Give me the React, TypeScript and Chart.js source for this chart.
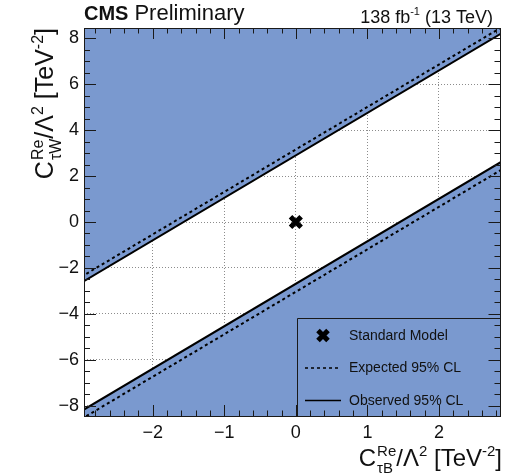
import { useEffect, useRef } from 'react';
import { Chart, registerables } from 'chart.js';
Chart.register(...registerables);

// ---- data ----
const xRange = [-2.96, 2.86];
const yRange = [-8.45, 8.45];
const xTickValues = [-2, -1, 0, 1, 2];
const yTickValues = [-8, -6, -4, -2, 0, 2, 4, 6, 8];
const lineX = [-3, 3];
const observedUpperY = [-2.65, 8.45];
const observedLowerY = [-8.24, 2.86];
const expectedUpperY = [-2.39, 8.71];
const expectedLowerY = [-8.59, 2.51];
const smX = [0];
const smY = [0];
const legendLabels = ['Standard Model', 'Expected 95% CL', 'Observed 95% CL'];

const FILL = 'rgb(122,153,207)';
const FONT = "'Liberation Sans', Arial, Helvetica, sans-serif";
const INK = '#111';

type Piece = { t: string; kind?: 'base' | 'sup' | 'sub' | 'stack'; sub?: string };

function drawRich(ctx: CanvasRenderingContext2D, pieces: Piece[], size: number, xRight: number, y: number) {
  const small = Math.round(size * 0.62);
  const widths = pieces.map((p) => {
    if (p.kind === 'sup' || p.kind === 'sub') {
      ctx.font = `${small}px ${FONT}`;
      return ctx.measureText(p.t).width;
    }
    if (p.kind === 'stack') {
      ctx.font = `${small}px ${FONT}`;
      return Math.max(ctx.measureText(p.t).width, ctx.measureText(p.sub || '').width) + 1;
    }
    ctx.font = `${size}px ${FONT}`;
    return ctx.measureText(p.t).width;
  });
  const total = widths.reduce((a, b) => a + b, 0);
  let x = xRight - total;
  ctx.textAlign = 'left';
  ctx.textBaseline = 'alphabetic';
  pieces.forEach((p, i) => {
    if (p.kind === 'sup') {
      ctx.font = `${small}px ${FONT}`;
      ctx.fillText(p.t, x, y - size * 0.42);
    } else if (p.kind === 'sub') {
      ctx.font = `${small}px ${FONT}`;
      ctx.fillText(p.t, x, y + size * 0.25);
    } else if (p.kind === 'stack') {
      ctx.font = `${small}px ${FONT}`;
      ctx.fillText(p.t, x + 1, y - size * 0.42);
      ctx.fillText(p.sub || '', x + 1, y + size * 0.3);
    } else {
      ctx.font = `${size}px ${FONT}`;
      ctx.fillText(p.t, x, y);
    }
    x += widths[i];
  });
}

function drawX(ctx: CanvasRenderingContext2D, cx: number, cy: number, r: number, w: number) {
  ctx.save();
  ctx.strokeStyle = '#000';
  ctx.lineWidth = w;
  ctx.lineCap = 'butt';
  ctx.beginPath();
  ctx.moveTo(cx - r, cy - r);
  ctx.lineTo(cx + r, cy + r);
  ctx.moveTo(cx - r, cy + r);
  ctx.lineTo(cx + r, cy - r);
  ctx.stroke();
  ctx.restore();
}

const decorPlugin = {
  id: 'decor',
  afterDatasetsDraw(chart: any) {
    const ctx: CanvasRenderingContext2D = chart.ctx;
    const ca = chart.chartArea;
    const xs = chart.scales.x;
    const ys = chart.scales.y;
    ctx.save();
    // frame
    ctx.strokeStyle = '#1a1a1a';
    ctx.lineWidth = 1;
    ctx.strokeRect(Math.round(ca.left) + 0.5, Math.round(ca.top) + 0.5, Math.round(ca.right - ca.left) - 1, Math.round(ca.bottom - ca.top));
    // inner ticks
    ctx.beginPath();
    for (let v = -28; v <= 28; v++) {
      const val = v / 5;
      if (val < xRange[0] || val > xRange[1]) continue;
      const px = Math.round(xs.getPixelForValue(val)) + 0.5;
      const len = v % 5 === 0 ? 11 : 5.5;
      ctx.moveTo(px, ca.bottom);
      ctx.lineTo(px, ca.bottom - len);
      ctx.moveTo(px, ca.top);
      ctx.lineTo(px, ca.top + len);
    }
    for (let v = -16; v <= 16; v++) {
      const val = v / 2;
      if (val < yRange[0] || val > yRange[1]) continue;
      const py = Math.round(ys.getPixelForValue(val)) + 0.5;
      const len = v % 4 === 0 ? 12 : 6;
      ctx.moveTo(ca.left, py);
      ctx.lineTo(ca.left + len, py);
      ctx.moveTo(ca.right, py);
      ctx.lineTo(ca.right - len, py);
    }
    ctx.stroke();

    // legend
    const w = ca.right - ca.left;
    const h = ca.bottom - ca.top;
    const lx = Math.round(ca.left + 0.511 * w) + 0.5;
    const ly = Math.round(ca.top + 0.748 * h) + 0.5;
    ctx.strokeStyle = '#1a1a1a';
    ctx.lineWidth = 1;
    ctx.beginPath();
    ctx.moveTo(lx, ca.bottom);
    ctx.lineTo(lx, ly);
    ctx.lineTo(ca.right, ly);
    ctx.stroke();
    const rowY = [ly + 17, ly + 49.5, ly + 82];
    drawX(ctx, lx + 25.5, rowY[0], 5, 5);
    ctx.strokeStyle = '#000';
    ctx.lineWidth = 1.6;
    ctx.setLineDash([3, 3]);
    ctx.beginPath();
    ctx.moveTo(lx + 7.5, rowY[1]);
    ctx.lineTo(lx + 43.5, rowY[1]);
    ctx.stroke();
    ctx.setLineDash([]);
    ctx.beginPath();
    ctx.moveTo(lx + 7.5, rowY[2]);
    ctx.lineTo(lx + 43.5, rowY[2]);
    ctx.stroke();
    ctx.fillStyle = INK;
    ctx.font = `14px ${FONT}`;
    ctx.textAlign = 'left';
    ctx.textBaseline = 'middle';
    legendLabels.forEach((t, i) => ctx.fillText(t, lx + 51.5, rowY[i] + 0.5));

    // header
    ctx.textBaseline = 'alphabetic';
    ctx.font = `bold 20px ${FONT}`;
    ctx.fillText('CMS', 84, 20);
    const cmsW = ctx.measureText('CMS').width;
    ctx.font = `22px ${FONT}`;
    ctx.fillText('Preliminary', 84 + cmsW + 6, 20);
    drawRich(ctx, [{ t: '138 fb' }, { t: '-1', kind: 'sup' }, { t: ' (13 TeV)' }], 18, 493, 23);

    // axis titles
    drawRich(
      ctx,
      [{ t: 'C' }, { t: 'Re', kind: 'stack', sub: '\u03C4B' }, { t: '/\u039B' }, { t: '2', kind: 'sup' }, { t: ' [TeV' }, { t: '-2', kind: 'sup' }, { t: ']' }],
      24,
      502,
      466
    );
    ctx.save();
    ctx.translate(53, 28);
    ctx.rotate(-Math.PI / 2);
    drawRich(
      ctx,
      [{ t: 'C' }, { t: 'Re', kind: 'stack', sub: '\u03C4W' }, { t: '/\u039B' }, { t: '2', kind: 'sup' }, { t: ' [TeV' }, { t: '-2', kind: 'sup' }, { t: ']' }],
      25,
      0,
      0
    );
    ctx.restore();
    ctx.restore();
  },
};

const pts = (xs: number[], ys: number[]) => xs.map((x, i) => ({ x, y: ys[i] }));
const minus = (v: any) => String(v).replace('-', '\u2212');

export default function App() {
  const ref = useRef<HTMLCanvasElement | null>(null);
  useEffect(() => {
    if (!ref.current) return;
    const chart = new Chart(ref.current, {
      type: 'line',
      data: {
        datasets: [
          {
            label: 'Standard Model',
            data: pts(smX, smY),
            showLine: false,
            pointStyle: 'crossRot',
            pointRadius: 7.5,
            pointBorderWidth: 5,
            pointBorderColor: '#000',
            pointBackgroundColor: '#000',
            order: 0,
          },
          {
            label: 'Expected upper',
            data: pts(lineX, expectedUpperY),
            borderColor: '#000',
            borderWidth: 2,
            borderDash: [3, 3],
            pointRadius: 0,
            fill: false,
            order: 1,
          },
          {
            label: 'Expected lower',
            data: pts(lineX, expectedLowerY),
            borderColor: '#000',
            borderWidth: 2,
            borderDash: [3, 3],
            pointRadius: 0,
            fill: false,
            order: 1,
          },
          {
            label: 'Observed upper',
            data: pts(lineX, observedUpperY),
            borderColor: '#000',
            borderWidth: 2,
            pointRadius: 0,
            fill: 'end',
            backgroundColor: FILL,
            order: 2,
          },
          {
            label: 'Observed lower',
            data: pts(lineX, observedLowerY),
            borderColor: '#000',
            borderWidth: 2,
            pointRadius: 0,
            fill: 'start',
            backgroundColor: FILL,
            order: 2,
          },
        ],
      },
      options: {
        animation: false,
        responsive: true,
        maintainAspectRatio: false,
        layout: { padding: { top: 28, right: 10, left: 0, bottom: 0 } },
        plugins: { legend: { display: false }, tooltip: { enabled: false } },
        events: [],
        scales: {
          x: {
            type: 'linear',
            min: xRange[0],
            max: xRange[1],
            afterBuildTicks: (s: any) => {
              s.ticks = xTickValues.map((value) => ({ value }));
            },
            afterFit: (s: any) => {
              s.height = 60;
            },
            grid: { color: '#8c8c8c', lineWidth: 1, drawTicks: false, tickLength: 0 },
            border: { display: false, dash: [1, 2] },
            ticks: { padding: 6, color: INK, font: { family: FONT, size: 18 }, maxRotation: 0, callback: minus },
          },
          y: {
            type: 'linear',
            min: yRange[0],
            max: yRange[1],
            afterBuildTicks: (s: any) => {
              s.ticks = yTickValues.map((value) => ({ value }));
            },
            afterFit: (s: any) => {
              s.width = 84;
            },
            grid: { color: '#8c8c8c', lineWidth: 1, drawTicks: false, tickLength: 0 },
            border: { display: false, dash: [1, 2] },
            ticks: { padding: 5, color: INK, font: { family: FONT, size: 18 }, callback: minus },
          },
        },
      },
      plugins: [decorPlugin],
    } as any);
    return () => chart.destroy();
  }, []);
  return (
    <div style={{ position: 'absolute', left: 0, top: 0, width: 513, height: 476, background: '#fff' }}>
      <canvas ref={ref} />
    </div>
  );
}
